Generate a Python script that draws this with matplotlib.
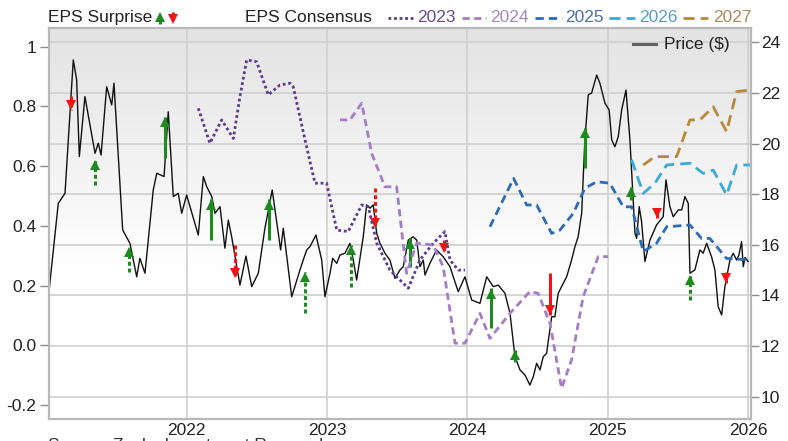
import numpy as np
import matplotlib
matplotlib.use("Agg")
import matplotlib.pyplot as plt
from matplotlib.lines import Line2D
from matplotlib import transforms

plt.rcParams['font.family'] = ['Liberation Sans', 'DejaVu Sans']

# ---------------- data ----------------
price_dates = [2021.020, 2021.084, 2021.132, 2021.191, 2021.215, 2021.234, 2021.274, 2021.346,
               2021.369, 2021.389, 2021.429, 2021.465, 2021.481, 2021.543, 2021.595, 2021.643,
               2021.666, 2021.702, 2021.761, 2021.786, 2021.838, 2021.868, 2021.904, 2021.939,
               2021.964, 2021.999, 2022.082, 2022.118, 2022.142, 2022.178, 2022.201, 2022.237,
               2022.272, 2022.296, 2022.320, 2022.379, 2022.422, 2022.463, 2022.510, 2022.557,
               2022.609, 2022.669, 2022.688, 2022.748, 2022.807, 2022.830, 2022.855, 2022.878,
               2022.921, 2022.962, 2022.985, 2023.021, 2023.040, 2023.069, 2023.092, 2023.128,
               2023.163, 2023.187, 2023.211, 2023.258, 2023.282, 2023.306, 2023.329, 2023.354,
               2023.377, 2023.413, 2023.448, 2023.484, 2023.520, 2023.543, 2023.579, 2023.614,
               2023.639, 2023.662, 2023.686, 2023.698, 2023.733, 2023.781, 2023.828, 2023.876,
               2023.935, 2023.983, 2024.031, 2024.090, 2024.138, 2024.185, 2024.220, 2024.268,
               2024.304, 2024.339, 2024.375, 2024.411, 2024.446, 2024.470, 2024.494, 2024.518,
               2024.541, 2024.565, 2024.601, 2024.624, 2024.648, 2024.708, 2024.743, 2024.767,
               2024.790, 2024.815, 2024.838, 2024.862, 2024.886, 2024.922, 2024.945, 2024.981,
               2025.011, 2025.029, 2025.052, 2025.076, 2025.100, 2025.131, 2025.159, 2025.178,
               2025.195, 2025.207, 2025.225, 2025.242, 2025.266, 2025.302, 2025.349, 2025.396,
               2025.416, 2025.444, 2025.468, 2025.503, 2025.528, 2025.551, 2025.575, 2025.587,
               2025.622, 2025.658, 2025.681, 2025.706, 2025.741, 2025.765, 2025.788, 2025.813,
               2025.836, 2025.872, 2025.895, 2025.920, 2025.936, 2025.955, 2025.967, 2025.979,
               2026.002]
price_values = [14.28, 17.64, 18.04, 23.31, 22.52, 19.49, 21.86, 19.62,
                20.02, 19.55, 22.25, 21.53, 22.39, 16.59, 16.06, 14.74,
                15.47, 14.88, 18.17, 18.83, 18.70, 21.26, 17.91, 18.04,
                17.25, 17.97, 16.39, 18.70, 18.30, 17.91, 17.25, 17.51,
                15.87, 16.98, 16.32, 14.41, 15.56, 14.35, 14.88, 16.66,
                18.17, 15.80, 16.66, 13.95, 15.01, 15.40, 15.80, 15.93,
                16.39, 15.40, 13.95, 14.88, 15.47, 15.27, 15.60, 15.67,
                16.06, 15.40, 14.61, 16.32, 17.58, 17.45, 17.58, 16.46,
                16.06, 15.67, 15.40, 14.68, 15.01, 15.14, 16.19, 16.32,
                16.19, 15.14, 15.40, 14.81, 15.27, 15.80, 15.53, 15.14,
                14.15, 14.74, 13.82, 13.69, 14.74, 14.35, 14.41, 14.09,
                13.30, 11.60, 11.06, 10.86, 10.46, 10.79, 11.32, 11.06,
                11.58, 11.71, 13.16, 13.16, 14.09, 14.74, 15.40, 15.93,
                16.32, 17.25, 20.15, 21.93, 22.00, 22.71, 22.39, 21.60,
                21.33, 20.15, 19.88, 20.28, 21.33, 22.12, 20.15, 18.17,
                16.46, 16.26, 17.51, 16.92, 15.34, 16.19, 16.79, 17.11,
                18.57, 17.51, 17.11, 17.38, 17.38, 17.91, 17.64, 14.88,
                15.01, 15.80, 15.67, 16.06, 15.53, 15.01, 13.56, 13.23,
                14.35, 15.40, 15.67, 15.40, 15.60, 16.13, 15.14, 15.50,
                15.34]

cons_2023_dates = [2022.082, 2022.165, 2022.249, 2022.332, 2022.379, 2022.427, 2022.498, 2022.581,
                   2022.664, 2022.736, 2022.759, 2022.843, 2022.914, 2022.997, 2023.069, 2023.151,
                   2023.247, 2023.294, 2023.354, 2023.448, 2023.579, 2023.662, 2023.757, 2023.840,
                   2023.876, 2023.935, 2023.983]
cons_2023 = [0.794, 0.677, 0.755, 0.693, 0.833, 0.956, 0.950, 0.839,
             0.872, 0.878, 0.866, 0.688, 0.543, 0.543, 0.386, 0.381,
             0.470, 0.464, 0.342, 0.252, 0.191, 0.286, 0.342, 0.381,
             0.286, 0.252, 0.252]

cons_2024_dates = [2023.092, 2023.163, 2023.247, 2023.318, 2023.413, 2023.496, 2023.567, 2023.639,
                   2023.757, 2023.828, 2023.912, 2023.983, 2024.090, 2024.161, 2024.304, 2024.446,
                   2024.505, 2024.589, 2024.672, 2024.743, 2024.826, 2024.933, 2025.004]
cons_2024 = [0.755, 0.755, 0.811, 0.643, 0.531, 0.531, 0.241, 0.342,
             0.336, 0.263, 0.007, 0.007, 0.107, 0.023, 0.107, 0.180,
             0.174, 0.074, -0.144, -0.049, 0.163, 0.297, 0.297]

cons_2025_dates = [2024.161, 2024.330, 2024.423, 2024.494, 2024.601, 2024.660, 2024.755, 2024.838,
                   2024.922, 2025.016, 2025.111, 2025.171, 2025.254, 2025.349, 2025.421, 2025.587,
                   2025.670, 2025.729, 2025.848, 2026.014]
cons_2025 = [0.397, 0.559, 0.470, 0.470, 0.375, 0.386, 0.442, 0.526,
             0.548, 0.543, 0.464, 0.464, 0.314, 0.342, 0.397, 0.403,
             0.358, 0.358, 0.291, 0.286]

cons_2026_dates = [2025.171, 2025.254, 2025.337, 2025.421, 2025.587, 2025.681, 2025.753, 2025.848,
                   2025.920, 2026.014]
cons_2026 = [0.621, 0.509, 0.543, 0.604, 0.610, 0.576, 0.587, 0.504, 0.604, 0.604]

cons_2027_dates = [2025.254, 2025.337, 2025.492, 2025.587, 2025.658, 2025.753, 2025.848, 2025.920,
                   2026.014]
cons_2027 = [0.604, 0.632, 0.632, 0.755, 0.755, 0.799, 0.716, 0.850, 0.855]

surprise_dates = [2021.173, 2021.346, 2021.590, 2021.845, 2022.170, 2022.344, 2022.588, 2022.843,
                  2023.168, 2023.341, 2023.591, 2023.835, 2024.166, 2024.341, 2024.589, 2024.838,
                  2025.166, 2025.349, 2025.587, 2025.841]
surprise_from = [21.89, 18.36, 14.94, 19.42, 16.19, 16.00, 16.19, 13.30,
                 14.35, 18.24, 15.14, 16.19, 12.70, 11.38, 14.88, 19.03,
                 17.77, 17.45, 13.82, 14.94]
surprise_to = [21.33, 19.36, 15.93, 21.07, 17.80, 14.68, 17.80, 14.92,
               16.00, 16.66, 16.26, 15.67, 14.28, 11.85, 13.23, 20.61,
               18.30, 17.05, 14.81, 14.48]
surprise_solid = [False, False, False, True, True, False, True, False,
                  False, False, True, False, True, True, True, True,
                  True, True, False, True]

year_ticks = [2022, 2023, 2024, 2025, 2026]
eps_ticks = [-0.2, 0.0, 0.2, 0.4, 0.6, 0.8, 1.0]
eps_labels = ['-0.2', '0.0', '0.2', '0.4', '0.6', '0.8', '1']
price_ticks = [10, 12, 14, 16, 18, 20, 22, 24]

series_names = ['2023', '2024', '2025', '2026', '2027']

# ---------------- styles ----------------
W, H = 788, 441
FS = 12.5
GREEN = '#1d8a1d'
RED = '#f01414'
line_colors = ['#5e3a8c', '#a57cc6', '#2c6cb6', '#3ba9d9', '#b8873a']
text_colors = ['#6a4a8e', '#a08bbb', '#4c6fa3', '#5a9dc2', '#a88a58']
dashes = [(1.0, 1.0), (2.6, 1.6), (3.0, 1.8), (4.0, 2.2), (4.0, 2.2)]
MS = 7.5

fig = plt.figure(figsize=(W / 100, H / 100), dpi=100)
ax = fig.add_axes([49.3 / W, 1 - 419 / H, (750.7 - 49.3) / W, (419 - 28) / H])
ax2 = ax.twinx()
ax.set_zorder(2)
ax2.set_zorder(1)
ax.patch.set_visible(False)

# background gradient (on bottom layer)
t = np.linspace(0, 1, 256)
g = 1 - 0.11 * np.clip((t - 0.38) / 0.62, 0, 1)
rgb = np.repeat(g[:, None, None], 3, axis=2)
ax2.imshow(rgb, extent=[0, 1, 0, 1], transform=ax2.transAxes, aspect='auto',
           origin='lower', zorder=0, interpolation='bilinear')

xlim = (2021.02, 2026.02)
ax.set_xlim(*xlim)
ax2.set_xlim(*xlim)
ax.set_ylim(-0.247, 1.063)
ax2.set_ylim(9.12, 24.57)

# grid
ax2.set_yticks(price_ticks)
ax2.grid(axis='y', color='#cfcfcf', lw=1.2, zorder=0.5)
for yr in year_ticks:
    ax2.axvline(yr, color='#cfcfcf', lw=1.2, zorder=0.5)

# price line
ax2.plot(price_dates, price_values, color='#111111', lw=1.0, zorder=2)

# surprise arrows
for x, s, e, solid in zip(surprise_dates, surprise_from, surprise_to, surprise_solid):
    up = e > s
    c = GREEN if up else RED
    ls = '-' if solid else (0, (1.3, 0.9))
    ax2.plot([x, x], [s, e], color=c, lw=2.2, ls=ls, zorder=3, solid_capstyle='butt')
    off = transforms.offset_copy(ax2.transData, fig=fig, y=(-MS / 2 if up else MS / 2), units='points')
    ax2.plot([x], [e], marker='^' if up else 'v', ms=MS, color=c, mec=c, mew=0,
             transform=off, zorder=4)

# consensus lines
cons_dates = [cons_2023_dates, cons_2024_dates, cons_2025_dates, cons_2026_dates, cons_2027_dates]
cons_vals = [cons_2023, cons_2024, cons_2025, cons_2026, cons_2027]
for d, v, c, dsh in zip(cons_dates, cons_vals, line_colors, dashes):
    ax.plot(d, v, color=c, lw=2.0, dashes=dsh, zorder=3)

# axes decoration
for a in (ax, ax2):
    for sp in a.spines.values():
        sp.set_color('#b8b8b8')
        sp.set_linewidth(1.5)
ax.set_yticks(eps_ticks)
ax.set_yticklabels(eps_labels)
ax.set_xticks(year_ticks)
ax.set_xticklabels([str(y) for y in year_ticks])
ax.tick_params(axis='y', length=6.5, width=1, color='#8a8a8a', pad=3.0, labelsize=FS, labelcolor='#222222')
ax.tick_params(axis='x', length=0, pad=3.0, labelsize=FS, labelcolor='#222222')
ax2.tick_params(axis='y', length=6, width=1, color='#8a8a8a', pad=1.5, labelsize=FS, labelcolor='#222222')

# ---------------- top legend ----------------
def fy(py):
    return 1 - py / H

ly = fy(17.7)
fig.text(48 / W, ly, 'EPS Surprise', fontsize=FS, color='#222222', va='center', ha='left')
# green up arrow
fig.add_artist(Line2D([160 / W, 160 / W], [fy(24), fy(17)], transform=fig.transFigure,
                      color=GREEN, lw=2.2, solid_capstyle='butt'))
fig.add_artist(Line2D([160 / W], [fy(17)], transform=fig.transFigure, marker='^',
                      ms=MS, color=GREEN, mew=0))
# red down arrow
fig.add_artist(Line2D([172.5 / W, 172.5 / W], [fy(12), fy(19)], transform=fig.transFigure,
                      color=RED, lw=2.2, solid_capstyle='butt'))
fig.add_artist(Line2D([172.5 / W], [fy(19)], transform=fig.transFigure, marker='v',
                      ms=MS, color=RED, mew=0))

fig.text(245 / W, ly, 'EPS Consensus', fontsize=FS, color='#222222', va='center', ha='left')
seg_x = [(388, 413, 417), (462, 486, 490), (535, 562, 565), (609, 635, 639), (683, 708, 713)]
for (x0, x1, tx), name, lc, tc, dsh in zip(seg_x, series_names, line_colors, text_colors, dashes):
    fig.add_artist(Line2D([x0 / W, x1 / W], [ly, ly], transform=fig.transFigure,
                          color=lc, lw=2.0, dashes=dsh))
    fig.text(tx / W, ly, name, fontsize=FS, color=tc, va='center', ha='left')

# price legend
py = fy(44)
fig.add_artist(Line2D([633 / W, 656 / W], [py, py], transform=fig.transFigure, color='#606060', lw=2.2))
fig.text(664 / W, py, 'Price ($)', fontsize=FS, color='#222222', va='center', ha='left')

# source (cut off at bottom)
fig.text(48 / W, fy(438.5), 'Source: Zacks Investment Research', fontsize=FS,
         color='#333333', va='top', ha='left')

fig.savefig('out.png', dpi=100)
